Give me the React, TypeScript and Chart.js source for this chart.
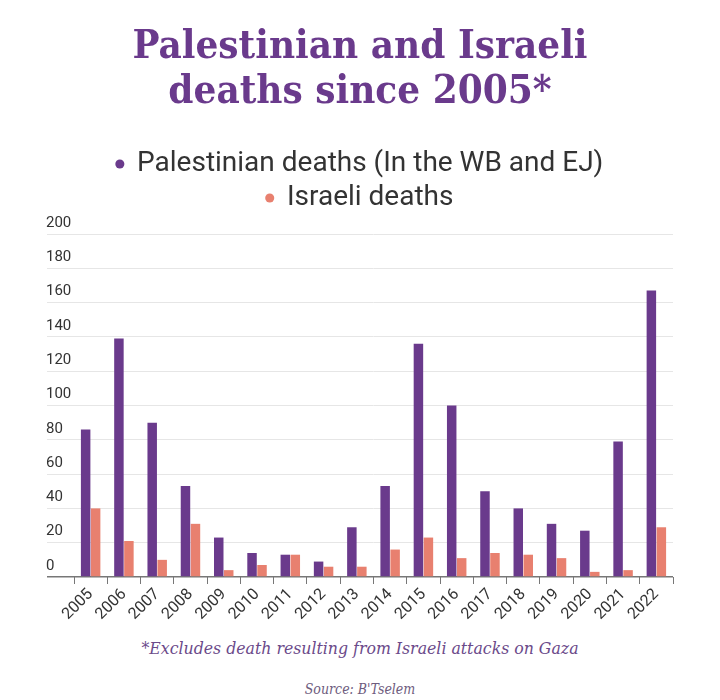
import { Chart, registerables } from "chart.js";
import React, { useEffect, useRef } from "react";

Chart.register(...registerables);

const years = [
  "2005", "2006", "2007", "2008", "2009", "2010", "2011", "2012", "2013",
  "2014", "2015", "2016", "2017", "2018", "2019", "2020", "2021", "2022",
];
const palestinianDeaths = [86, 139, 90, 53, 23, 14, 13, 9, 29, 53, 136, 100, 50, 40, 31, 27, 79, 167];
const israeliDeaths = [40, 21, 10, 31, 4, 7, 13, 6, 6, 16, 23, 11, 14, 13, 11, 3, 4, 29];
const yTicks = [0, 20, 40, 60, 80, 100, 120, 140, 160, 180, 200];

const PURPLE = "#6a3a8c";
const SALMON = "#e8806f";
const SIDE_PAD = 20;

const App = () => {
  const chartRef = useRef<HTMLCanvasElement | null>(null);

  useEffect(() => {
    if (!chartRef.current) return;
    const chart = new Chart(chartRef.current, {
      type: "bar",
      data: {
        labels: years,
        datasets: [
          {
            label: "Palestinian deaths (In the WB and EJ)",
            data: palestinianDeaths,
            backgroundColor: PURPLE,
            borderWidth: 0,
            categoryPercentage: 0.6,
            barPercentage: 0.95,
          },
          {
            label: "Israeli deaths",
            data: israeliDeaths,
            backgroundColor: SALMON,
            borderWidth: 0,
            categoryPercentage: 0.6,
            barPercentage: 0.95,
          },
        ],
      },
      options: {
        animation: false,
        responsive: true,
        maintainAspectRatio: false,
        layout: { padding: { left: SIDE_PAD, right: SIDE_PAD, top: 0, bottom: 0 } },
        plugins: {
          title: {
            display: true,
            text: ["Palestinian and Israeli", "deaths since 2005*"],
            color: PURPLE,
            font: { family: "'DejaVu Serif Condensed', 'DejaVu Serif', serif", weight: "bold", size: 40, lineHeight: 1.125 },
            padding: { top: 17, bottom: 29 },
          },
          legend: {
            position: "top",
            labels: {
              usePointStyle: true,
              pointStyle: "circle",
              boxWidth: 6.4,
              boxHeight: 6.4,
              padding: 6,
              color: "#333",
              font: { family: "Roboto", size: 28 },
            },
          },
          tooltip: { enabled: false },
        },
        scales: {
          x: {
            grid: {
              display: true,
              drawOnChartArea: false,
              drawTicks: true,
              tickLength: 7,
              color: "#777",
              offset: true,
            },
            border: { display: false },
            ticks: {
              color: "#333",
              font: { family: "Roboto", size: 16 },
              minRotation: 45,
              maxRotation: 45,
              autoSkip: false,
              padding: 1,
            },
            afterFit: (scale: any) => {
              scale.height = 51;
            },
          },
          xTop: {
            type: "category",
            position: "top",
            display: true,
            grid: { display: false },
            ticks: { display: false },
            border: { display: false },
            afterFit: (scale: any) => {
              scale.height = 12;
            },
          },
          y: {
            min: 0,
            max: 200,
            afterBuildTicks: (scale: any) => {
              scale.ticks = yTicks.map((v) => ({ value: v }));
            },
            grid: {
              color: (ctx: any) => (ctx.tick && ctx.tick.value === 0 ? "#777" : "#e6e6e6"),
              lineWidth: (ctx: any) => (ctx.tick && ctx.tick.value === 0 ? 1.5 : 1),
              tickLength: 27,
              drawTicks: true,
            },
            border: { display: false },
            ticks: {
              mirror: true,
              padding: -28,
              labelOffset: -11,
              color: "#333",
              font: { family: "Roboto", size: 15 },
            },
            afterFit: (scale: any) => {
              scale.width = 66 - SIDE_PAD;
            },
          },
          y2: {
            type: "linear",
            position: "right",
            display: true,
            grid: { display: false },
            ticks: { display: false },
            border: { display: false },
            afterFit: (scale: any) => {
              scale.width = 39 - SIDE_PAD;
            },
          },
        },
      },
    });
    return () => chart.destroy();
  }, []);

  return (
    <div style={{ width: 704 }}>
      <div style={{ position: "relative", width: 704, height: 620 }}>
        <canvas ref={chartRef}></canvas>
      </div>
      <div
        style={{
          marginTop: 8,
          textAlign: "center",
          fontFamily: "'DejaVu Serif Condensed', 'DejaVu Serif', serif",
          fontStretch: "condensed",
          fontStyle: "italic",
          fontSize: 17.5,
          lineHeight: "24px",
          color: "#6b4a8a",
        }}
      >
        *Excludes death resulting from Israeli attacks on Gaza
      </div>
      <div
        style={{
          marginTop: 19,
          textAlign: "center",
          fontFamily: "'DejaVu Serif Condensed', 'DejaVu Serif', serif",
          fontStretch: "condensed",
          fontStyle: "italic",
          fontSize: 14,
          lineHeight: "20px",
          color: "#6e5c7e",
        }}
      >
        Source: B'Tselem
      </div>
    </div>
  );
};

export default App;
